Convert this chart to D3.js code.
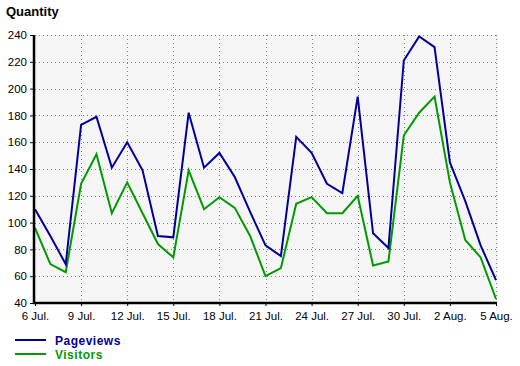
<!DOCTYPE html>
<html><head><meta charset="utf-8">
<script src="https://cdn.jsdelivr.net/npm/d3@7"></script>
<style>body{margin:0;background:#fff}svg{display:block}text{font-family:"Liberation Sans",Arial,sans-serif}</style>
</head><body><svg id="c" width="520" height="366"></svg>
<script>
const startDate = new Date(2010, 6, 6);
const pageviews = [110,90,69,173,179,141,160,139,90,89,182,141,152,134,108,83,75,164,152,129,122,194,92,81,221,239,231,145,116,83,57];
const visitors  = [96,69,63,129,151,107,130,107,84,74,139,110,119,111,90,60,66,114,119,107,107,120,68,71,165,182,194,130,87,74,43];
const yTicks = [40,60,80,100,120,140,160,180,200,220,240];
const xTickLabels = ["6 Jul.","9 Jul.","12 Jul.","15 Jul.","18 Jul.","21 Jul.","24 Jul.","27 Jul.","30 Jul.","2 Aug.","5 Aug."];
const seriesNames = ["Pageviews","Visitors"];
const colors = ["#000099","#009900"];

const dates = pageviews.map((_, i) => d3.timeDay.offset(startDate, i));
const tickDates = xTickLabels.map((_, i) => d3.timeDay.offset(startDate, i * 3));

const svg = d3.select("#c");
const L = 35, R = 496, T = 35, B = 303;
const x = d3.scaleTime().domain([dates[0], dates[dates.length-1]]).range([L, R]);
const y = d3.scaleLinear().domain([40, 240]).range([B, T]);

svg.append("rect").attr("x", L).attr("y", T).attr("width", R - L + 1).attr("height", B - T).attr("fill", "#f5f5f5");

// grid
const grid = svg.append("g").attr("stroke", "#808080").attr("stroke-width", 1).attr("stroke-dasharray", "1,3");
grid.selectAll("line.h").data(yTicks.slice(1)).join("line")
  .attr("x1", L).attr("x2", R + 1).attr("y1", d => Math.round(y(d)) + 0.5).attr("y2", d => Math.round(y(d)) + 0.5);
grid.selectAll("line.v").data(tickDates.slice(1)).join("line")
  .attr("y1", T).attr("y2", B).attr("x1", d => Math.round(x(d)) + 0.5).attr("x2", d => Math.round(x(d)) + 0.5);

// lines
const series = [pageviews, visitors];
const lineGen = d3.line().x((d, i) => x(dates[i])).y(d => y(d));
series.slice().reverse().forEach((s, k) => {
  const idx = series.length - 1 - k;
  svg.append("path").datum(s).attr("d", lineGen).attr("fill", "none")
    .attr("stroke", colors[idx]).attr("stroke-width", 2).attr("stroke-linejoin", "miter");
});

// axes
const yAxis = svg.append("g").attr("transform", `translate(${L - 1},0)`)
  .call(d3.axisLeft(y).tickValues(yTicks).tickSize(4).tickPadding(3).tickFormat(d3.format("d")));
yAxis.select(".domain").attr("stroke", "#000").attr("stroke-width", 2.5).attr("d", `M0,${T}V${B + 1}`);
yAxis.selectAll("text").attr("font-size", "11.5px").attr("fill", "#000");
yAxis.selectAll(".tick line").attr("stroke", "#000");

const xAxis = svg.append("g").attr("transform", `translate(0,${B})`)
  .call(d3.axisBottom(x).tickValues(tickDates).tickSize(3).tickPadding(6).tickFormat((d, i) => xTickLabels[i]));
xAxis.select(".domain").attr("stroke", "#000").attr("stroke-width", 2.5).attr("d", `M${L - 2},0H${R + 1}`);
xAxis.selectAll("text").attr("font-size", "11.5px").attr("fill", "#000");
xAxis.selectAll(".tick line").attr("stroke", "#000");

svg.append("text").attr("x", 6).attr("y", 16).attr("font-size", "13px").attr("font-weight", "bold").text("Quantity");

// legend
const leg = svg.append("g");
seriesNames.forEach((n, i) => {
  const yy = 340 + i * 14;
  leg.append("line").attr("x1", 15).attr("x2", 46).attr("y1", yy).attr("y2", yy).attr("stroke", colors[i]).attr("stroke-width", 2);
  leg.append("text").attr("x", 55).attr("y", yy + 4.5).attr("font-size", "12px").attr("letter-spacing", "0.5px")
    .attr("font-weight", "bold").attr("fill", colors[i]).text(n);
});
</script></body></html>
